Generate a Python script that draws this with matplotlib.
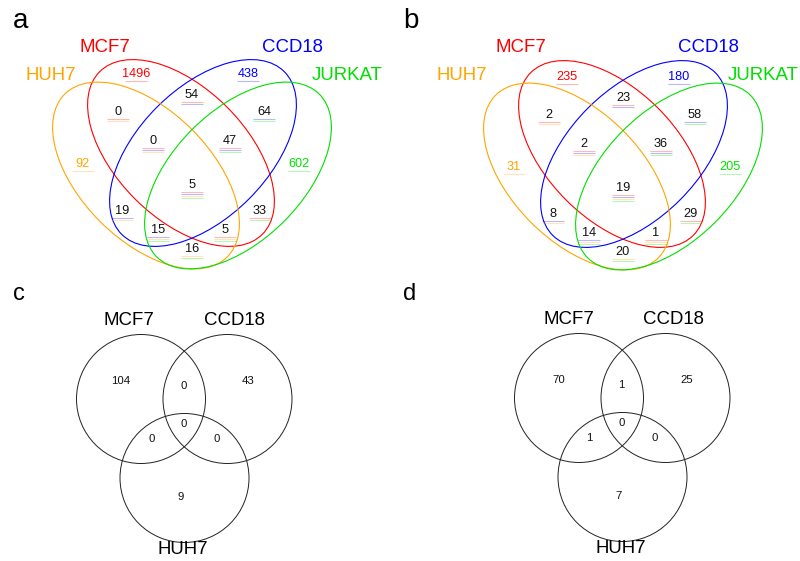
import matplotlib
matplotlib.use("Agg")
import matplotlib.pyplot as plt
from matplotlib.patches import Ellipse, Circle

plt.rcParams["font.family"] = ["Liberation Sans", "DejaVu Sans"]

# ---- data: 4-set panels (a, b) ----
SETS4 = ["MCF7", "CCD18", "HUH7", "JURKAT"]
SET_COLOR = {"MCF7": "#FF0000", "CCD18": "#0000FF", "HUH7": "#FFA500", "JURKAT": "#00E000"}
REGIONS4 = [("MCF7",), ("CCD18",), ("MCF7", "CCD18"), ("MCF7", "HUH7"), ("CCD18", "JURKAT"),
            ("MCF7", "CCD18", "HUH7"), ("MCF7", "CCD18", "JURKAT"), ("HUH7",), ("JURKAT",),
            ("MCF7", "CCD18", "HUH7", "JURKAT"), ("CCD18", "HUH7"), ("MCF7", "JURKAT"),
            ("CCD18", "HUH7", "JURKAT"), ("MCF7", "HUH7", "JURKAT"), ("HUH7", "JURKAT")]
COUNTS_A = [1496, 438, 54, 0, 64, 0, 47, 92, 602, 5, 19, 33, 15, 5, 16]
COUNTS_B = [235, 180, 23, 2, 58, 2, 36, 31, 205, 19, 8, 29, 14, 1, 20]

# ---- data: 3-set panels (c, d) ----
SETS3 = ["MCF7", "CCD18", "HUH7"]
REGIONS3 = [("MCF7",), ("CCD18",), ("MCF7", "CCD18"), ("MCF7", "CCD18", "HUH7"),
            ("MCF7", "HUH7"), ("CCD18", "HUH7"), ("HUH7",)]
COUNTS_C = [104, 43, 0, 0, 0, 0, 9]
COUNTS_D = [70, 25, 1, 0, 1, 0, 7]

# ---- layout (pixels, relative to each panel's anchor) ----
REG4_POS = [(-56, 72), (56, 72), (0, 93), (-74, 110), (72, 110), (-39, 139), (38, 139),
            (-109, 162), (107, 162), (0, 183), (-70, 209), (68, 209), (-34, 228), (33, 228), (0, 247)]
ELL4 = {"MCF7": (-11, 153, 45), "CCD18": (11, 153, -45), "HUH7": (-46, 175.5, 45), "JURKAT": (46, 175.5, -45)}
REG3_POS = [(-64, -19), (64, -19), (-1, -14), (-1, 24), (-33, 39), (32, 39), (-4, 97)]
CIRC3 = {"MCF7": (-43.5, 0), "CCD18": (43, 0), "HUH7": (0, 79)}


def draw_quad(ax, x0, dy_ell, dy_num, counts, label_pos):
    for s in SETS4:
        ex, ey, ang = ELL4[s]
        ax.add_patch(Ellipse((x0 + ex, ey + dy_ell), 230, 130, angle=ang, fill=False,
                             edgecolor=SET_COLOR[s], lw=0.8))
    for reg, (px, py), n in zip(REGIONS4, REG4_POS, counts):
        x, y = x0 + px, py + dy_num
        col = SET_COLOR[reg[0]] if len(reg) == 1 else "#111111"
        ax.text(x, y + 4.5, str(n), ha="center", va="baseline", fontsize=9.2, color=col)
        members = [s for s in SETS4 if s in reg]
        for i, s in enumerate(members):
            ax.plot([x - 11, x + 11], [y + 8.5 + 2 * i] * 2, color=SET_COLOR[s], lw=0.8,
                    alpha=0.28, solid_capstyle="butt")
    for s in SETS4:
        lx, ly = label_pos[s]
        ax.text(lx, ly, s, ha="center", va="baseline", fontsize=13.4, color=SET_COLOR[s])


def draw_triple(ax, x0, y0, counts, lab_dx):
    for s in SETS3:
        cx, cy = CIRC3[s]
        ax.add_patch(Circle((x0 + cx, y0 + cy), 64.5, fill=False, edgecolor="#222222", lw=0.7))
    for (px, py), n in zip(REG3_POS, counts):
        ax.text(x0 + px, y0 + py + 4, str(n), ha="center", va="baseline", fontsize=8.2, color="#111111")
    ax.text(x0 + lab_dx[0], y0 - 74, "MCF7", ha="center", va="baseline", fontsize=13.4)
    ax.text(x0 + lab_dx[1], y0 - 74, "CCD18", ha="center", va="baseline", fontsize=13.4)
    ax.text(x0 + lab_dx[2], y0 + 155, "HUH7", ha="center", va="baseline", fontsize=13.4)


fig = plt.figure(figsize=(8, 5.61), dpi=100)
ax = fig.add_axes([0, 0, 1, 1])
ax.set_xlim(0, 800); ax.set_ylim(561, 0); ax.axis("off")

draw_quad(ax, 192, 0, 0, COUNTS_A,
          {"MCF7": (105, 52), "CCD18": (292, 52), "HUH7": (51, 80), "JURKAT": (347, 80)})
draw_quad(ax, 623, 1, 3.5, COUNTS_B,
          {"MCF7": (521, 52), "CCD18": (708, 52), "HUH7": (462, 80), "JURKAT": (763, 80)})
draw_triple(ax, 184.5, 399, COUNTS_C, (-55.5, 49.5, -2))
draw_triple(ax, 622.5, 398, COUNTS_D, (-53.5, 51, -1.5))

for lab, x, y, fs in [("a", 13, 28, 20), ("b", 403, 28, 20), ("c", 13, 300, 17), ("d", 403, 300, 17)]:
    ax.text(x, y, lab, ha="left", va="baseline", fontsize=fs)

fig.savefig("out.png", dpi=100)
